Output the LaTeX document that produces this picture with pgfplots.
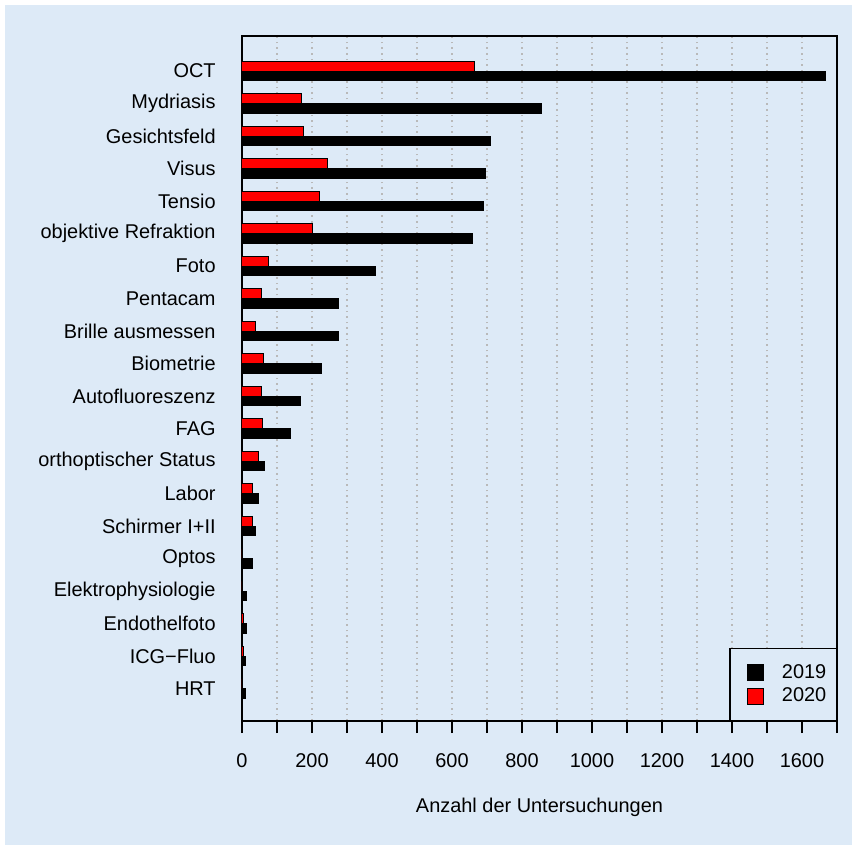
\documentclass[border=0pt]{standalone}
\usepackage{pgfplots}
\pgfplotsset{compat=1.18}
\usepackage{fontspec}
\setmainfont{Liberation Sans}
\definecolor{panelblue}{HTML}{DDEAF7}
\definecolor{barred}{HTML}{FF0000}

\begin{document}
\begin{tikzpicture}
\fontsize{10}{12}\selectfont
% 1 px of the reference = 0.5bp, axis box lower left at (0,0)
\path[use as bounding box] (-121bp,-62bp) rectangle (305.5bp,360.5bp);
\fill[white] (-121bp,-62bp) rectangle (305.5bp,360.5bp);
\fill[panelblue] (-118.5bp,-62bp) rectangle (305bp,358bp);
\begin{axis}[
    at={(0,0)}, anchor=south west,
    scale only axis,
    width=297.5bp, height=342.5bp,
    xbar,
    xmin=0, xmax=1700,
    ymin=-1, ymax=20.08,
    axis line style={line width=0.75bp},
    xtick={0,200,...,1600},
    minor xtick={100,300,...,1700},
    xtick pos=bottom,
    tick align=outside,
    major tick length=6bp, minor tick length=6bp,
    x tick style={line width=0.6bp, black},
    xmajorgrids, xminorgrids,
    major grid style={gray!55, line width=0.6bp, dash pattern=on 0.8bp off 2bp},
    minor grid style={gray!55, line width=0.6bp, dash pattern=on 0.8bp off 2bp},
    ytick={0,...,19},
    yticklabels={HRT, ICG−Fluo, Endothelfoto, Elektrophysiologie, Optos,
      Schirmer I+II, Labor, orthoptischer Status, FAG, Autofluoreszenz,
      Biometrie, Brille ausmessen, Pentacam, Foto, objektive Refraktion,
      Tensio, Visus, Gesichtsfeld, Mydriasis, OCT},
    y tick style={draw=none},
    /pgf/number format/assume math mode=true,
    /pgf/number format/1000 sep={},
    tick label style={font=\fontsize{10}{12}\selectfont},
    xticklabel style={inner sep=0pt, anchor=north},
    xticklabel shift=10bp,
    yticklabel style={inner sep=0pt, anchor=east},
    yticklabel shift=7bp,
    xlabel={Anzahl der Untersuchungen},
    every axis x label/.style={at={(axis description cs:0.5,0)},
      anchor=center, yshift=-43bp, font=\fontsize{10}{12}\selectfont},
    legend cell align=left,
    legend style={at={(1,0)}, anchor=south east, draw=black,
      line width=0.75bp, fill=panelblue,
      inner xsep=5bp, inner ysep=7.75bp, row sep=3.3bp,
      column sep=0bp,
      font=\fontsize{10}{12}\selectfont,
      nodes={inner sep=0pt},
      /tikz/every odd column/.append style={column sep=9bp}},
    legend image code/.code={
      \path (0bp,0bp);
      \draw[#1, line width=0.5bp] (3.5bp,-4bp) rectangle (11.5bp,4bp);},
]
\addplot[fill=black, draw=black, line width=0.5bp, bar width=0.3, bar shift=-0.15]
coordinates {
(9,0) (11,1) (14,2) (14,3) (29,4)
(40,5) (46,6) (65,7) (138,8) (166,9)
(228,10) (275,11) (277,12) (382,13) (659,14)
(691,15) (696,16) (711,17) (857,18) (1667,19)
};
\addlegendentry{2019}
\addplot[fill=barred, draw=black, line width=0.5bp, bar width=0.3, bar shift=0.15]
coordinates {
(1,0) (5,1) (5,2) (2,3) (2,4)
(31,5) (31,6) (48,7) (59,8) (56,9)
(61,10) (38,11) (56,12) (75,13) (202,14)
(222,15) (243,16) (176,17) (171,18) (663,19)
};
\addlegendentry{2020}
\end{axis}
\end{tikzpicture}
\end{document}
